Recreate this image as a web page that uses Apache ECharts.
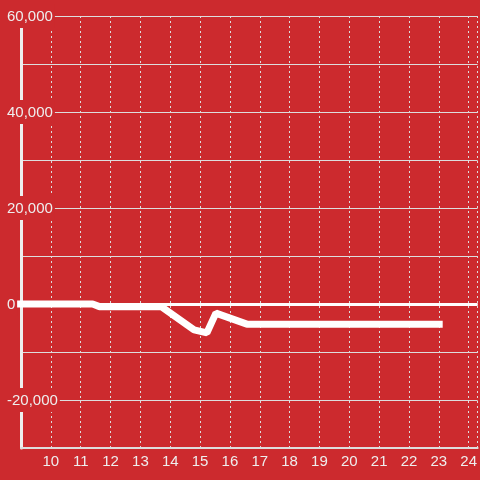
<!DOCTYPE html>
<html>
<head>
<meta charset="utf-8">
<script src="https://cdn.jsdelivr.net/npm/echarts@6/dist/echarts.min.js"></script>
<style>
html,body{margin:0;padding:0;background:#cc2a2e;}
#c{width:480px;height:480px;}
</style>
</head>
<body>
<div id="c"></div>
<script>
// Data
const hours  = [8.87, 11.4, 11.63, 13.7, 14.8, 15.23, 15.53, 16.57, 23.13];
const values = [0, 0, -550, -550, -5400, -6000, -1900, -4200, -4200];
const xTickLabels = [10, 11, 12, 13, 14, 15, 16, 17, 18, 19, 20, 21, 22, 23, 24];
const yTickLabels = [-20000, 0, 20000, 40000, 60000];

const BG = '#cc2a2e';
const TEXT = '#eeeeee';
const GRID = '#dddddd';
const FONT = 'Liberation Sans, Arial, sans-serif';

const chart = echarts.init(document.getElementById('c'), null, {renderer: 'canvas'});
chart.setOption({
  backgroundColor: BG,
  animation: false,
  grid: {left: 21, right: 0, top: 16, bottom: 32, containLabel: false},
  xAxis: {
    type: 'value',
    min: 9, max: 24.3, interval: 1,
    axisLine: {show: true, onZero: false, lineStyle: {color: GRID, width: 2}},
    axisTick: {show: false},
    splitLine: {show: true, lineStyle: {color: GRID, type: [2, 3], width: 1}},
    axisLabel: {
      color: TEXT, fontSize: 15, fontFamily: FONT, margin: 6,
      showMinLabel: false, showMaxLabel: false,
      formatter: v => xTickLabels.indexOf(v) >= 0 ? String(v) : ''
    }
  },
  yAxis: {
    type: 'value',
    min: -30000, max: 60000, interval: 10000,
    axisLine: {show: true, onZero: false, lineStyle: {color: TEXT, width: 3}},
    axisTick: {show: false},
    splitLine: {show: true, lineStyle: {color: GRID, width: 1}},
    axisLabel: {
      align: 'left', margin: 15, fontSize: 15, color: TEXT, fontFamily: FONT,
      formatter: v => yTickLabels.indexOf(v) >= 0 ? '{a|' + v.toLocaleString('en-US') + '}' : '',
      rich: {a: {color: TEXT, fontSize: 15, fontFamily: FONT,
                 backgroundColor: BG, padding: [5, 2, 4, 1]}}
    }
  },
  series: [{
    type: 'line',
    data: hours.map((h, i) => [h, values[i]]),
    showSymbol: false,
    clip: false,
    lineStyle: {color: '#ffffff', width: 7},
    markLine: {
      silent: true, symbol: ['none', 'none'],
      label: {show: false},
      lineStyle: {color: '#ffffff', width: 3, type: 'solid'},
      data: [{yAxis: 0}]
    }
  }]
});
</script>
</body>
</html>
